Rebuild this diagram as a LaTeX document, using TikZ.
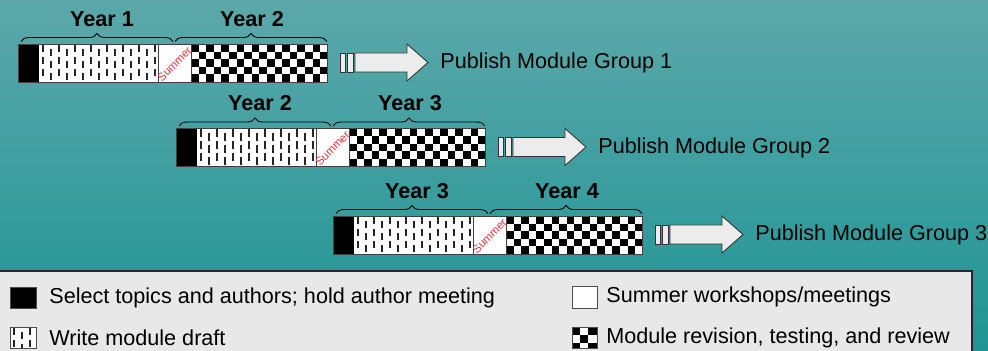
\documentclass[tikz,border=0pt]{standalone}
\usepackage{fontspec}
\setmainfont{Liberation Sans}
\usetikzlibrary{positioning, decorations.pathreplacing}

\definecolor{tealtop}{RGB}{92,168,170}
\definecolor{tealbot}{RGB}{30,148,148}
\definecolor{legendgray}{RGB}{232,232,232}
\definecolor{arrowgray}{RGB}{236,236,236}
\definecolor{summerred}{RGB}{255,45,60}

\tikzset{
  yearlabel/.style={font=\fontsize{12.3}{14}\selectfont\bfseries},
  publabel/.style={font=\fontsize{12.3}{14}\selectfont, anchor=west, inner sep=0pt},
  legendtext/.style={font=\fontsize{12.3}{14}\selectfont, anchor=west, inner sep=0pt},
  yearbrace/.style={decorate, decoration={brace, amplitude=4.5pt}, line width=0.5pt},
  summertext/.style={font=\fontsize{6.5}{7}\selectfont, text=summerred, rotate=45, inner sep=0pt},
  barline/.style={draw=black!75, line width=0.5pt},
  arrowbox/.style={draw=black!80, fill=arrowgray, line width=0.5pt},
}

% vertical dashes (write module draft)
\newcommand{\dashfill}[4]{%
  \begin{scope}[shift={(#1,#2)}]
    \fill[white] (0,0) rectangle (#3,#4);
    \clip (0,0) rectangle (#3,#4);
    \foreach \i [evaluate=\i as \dy using {mod(\i,2)*4}] in {0,...,15}
      \foreach \r in {1,13,25}
        \fill[black!85] ({3+8*\i},{\r+\dy}) rectangle ++(1.7,7.5);
  \end{scope}}

% checker board (module revision)
\newcommand{\checkfill}[5]{%
  \begin{scope}[shift={(#1,#2)}]
    \fill[white] (0,0) rectangle (#3,#4);
    \clip (0,0) rectangle (#3,#4);
    \foreach \i in {0,...,18}
      \foreach \j in {0,...,5}{
        \pgfmathtruncatemacro{\cpar}{mod(\i+\j,2)}
        \ifnum\cpar=0 \fill[black] ({\i*#5},{\j*#5}) rectangle ++(#5,#5);\fi
      }
  \end{scope}}

\begin{document}
\begin{tikzpicture}[x=0.02cm, y=-0.02cm]
  \useasboundingbox (0,0) rectangle (988,351);
  \clip (0,0) rectangle (988,351);
  \shade[top color=tealtop, bottom color=tealbot] (0,0) rectangle (988,351);

  % the three module groups
  \foreach \bx/\by/\yra/\yrb/\grp in {18/44/1/2/1, 176/128.5/2/3/2, 333/216/3/4/3}{
    \begin{scope}[shift={(\bx,\by)}]
      \fill[black] (0,0) rectangle (21,38);
      \dashfill{21}{0}{119}{38}
      \fill[white] (140,0) rectangle (173,38);
      \checkfill{173}{0}{136}{38}{7.6}
      \draw[barline] (140,0) -- (140,38) (173,0) -- (173,38);
      \draw[barline] (0,0) rectangle (309,38);
      \node[summertext] (summer\grp) at (156.5,20) {Summer};

      \draw[yearbrace] (3,-2.5) -- (155,-2.5);
      \draw[yearbrace] (157,-2.5) -- (309,-2.5);
      \node[yearlabel] (yrA\grp) at (84,-25) {Year \yra};
      \node[yearlabel] (yrB\grp) at (234,-25) {Year \yrb};

      \draw[arrowbox] (322,9) rectangle (327.5,28);
      \draw[arrowbox] (329,9) rectangle (335,28);
      \draw[arrowbox] (337,9) -- (389,9) -- (389,0) -- (410,18.5) -- (389,37) -- (389,28) -- (337,28) -- cycle;
      \node[publabel] (pub\grp) at (422,19) {Publish Module Group \grp};
    \end{scope}
  }

  % legend
  \draw[fill=legendgray, draw=black!85, line width=0.6pt] (-2,271) rectangle (972,360);
  \fill[black] (10,287) rectangle (36,308);
  \draw[black!70, line width=0.4pt] (10,287) rectangle (36,308);
  \node[legendtext] (selectlbl) at (49,298) {Select topics and authors; hold author meeting};

  \dashfill{10}{327}{26}{21}
  \draw[black!70, line width=0.4pt] (10,327) rectangle (36,348);
  \node[legendtext] (draftlbl) at (49,338) {Write module draft};

  \fill[white] (572,286) rectangle (597,308);
  \draw[black!70, line width=0.4pt] (572,286) rectangle (597,308);
  \node[legendtext] (summerlbl) at (606,297) {Summer workshops/meetings};

  \checkfill{572}{327}{25}{21}{8.2}
  \draw[black!70, line width=0.4pt] (572,327) rectangle (597,348);
  \node[legendtext] (revisionlbl) at (606,338) {Module revision, testing, and review};
\end{tikzpicture}
\end{document}
